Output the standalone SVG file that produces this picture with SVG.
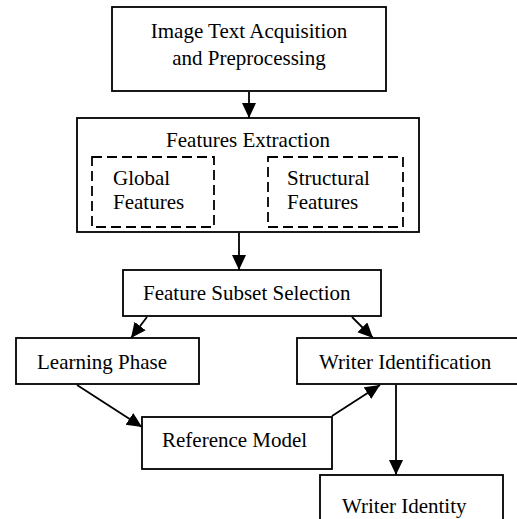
<svg xmlns="http://www.w3.org/2000/svg" width="517" height="519" viewBox="0 0 517 519">
  <style>
    .box { fill: #fff; stroke: #000; stroke-width: 1.8; }
    .dash { fill: none; stroke: #000; stroke-width: 1.8; stroke-dasharray: 10 5; }
    .lbl { font-family: "Liberation Serif", "Times New Roman", serif; font-size: 21px; fill: #000; }
    .mid { text-anchor: middle; }
    .edge { fill: none; stroke: #000; stroke-width: 1.8; marker-end: url(#arrow); }
  </style>
  <defs>
    <marker id="arrow" markerUnits="userSpaceOnUse" markerWidth="16" markerHeight="16" refX="15" refY="7" orient="auto">
      <path d="M0,0 L15,7 L0,14 Z" fill="#000"/>
    </marker>
  </defs>
  <rect width="517" height="519" fill="#fff"/>

  <g id="acquisition">
    <rect class="box" x="112" y="7" width="274" height="84"/>
    <text class="lbl mid" x="249" y="38">Image Text Acquisition</text>
    <text class="lbl mid" x="249" y="65">and Preprocessing</text>
  </g>

  <g id="extraction">
    <rect class="box" x="77" y="118" width="342" height="114"/>
    <text class="lbl mid" x="248" y="147">Features Extraction</text>
    <g id="global">
      <rect class="dash" x="92" y="157" width="122" height="70"/>
      <text class="lbl" x="113" y="185">Global</text>
      <text class="lbl" x="113" y="209">Features</text>
    </g>
    <g id="structural">
      <rect class="dash" x="268" y="157" width="135" height="70"/>
      <text class="lbl" x="287" y="185">Structural</text>
      <text class="lbl" x="287" y="209">Features</text>
    </g>
  </g>

  <g id="subset">
    <rect class="box" x="123" y="270" width="258" height="46"/>
    <text class="lbl" x="143" y="300">Feature Subset Selection</text>
  </g>

  <g id="learning">
    <rect class="box" x="16" y="338" width="183" height="46"/>
    <text class="lbl" x="37" y="369">Learning Phase</text>
  </g>

  <g id="identification">
    <rect class="box" x="297" y="338" width="222" height="46"/>
    <text class="lbl" x="319" y="369">Writer Identification</text>
  </g>

  <g id="reference">
    <rect class="box" x="142" y="417" width="190" height="52"/>
    <text class="lbl" x="162" y="447">Reference Model</text>
  </g>

  <g id="identity">
    <rect class="box" x="320" y="475" width="183" height="50"/>
    <text class="lbl" x="342" y="513">Writer Identity</text>
  </g>

  <g id="connectors">
    <line class="edge" x1="249" y1="92" x2="249" y2="118"/>
    <line class="edge" x1="239" y1="233" x2="239" y2="270"/>
    <line class="edge" x1="147" y1="317" x2="131" y2="338"/>
    <line class="edge" x1="352" y1="317" x2="373" y2="338"/>
    <line class="edge" x1="77" y1="385" x2="142" y2="427"/>
    <line class="edge" x1="332" y1="416" x2="380" y2="385"/>
    <line class="edge" x1="396" y1="385" x2="396" y2="475"/>
  </g>
</svg>
